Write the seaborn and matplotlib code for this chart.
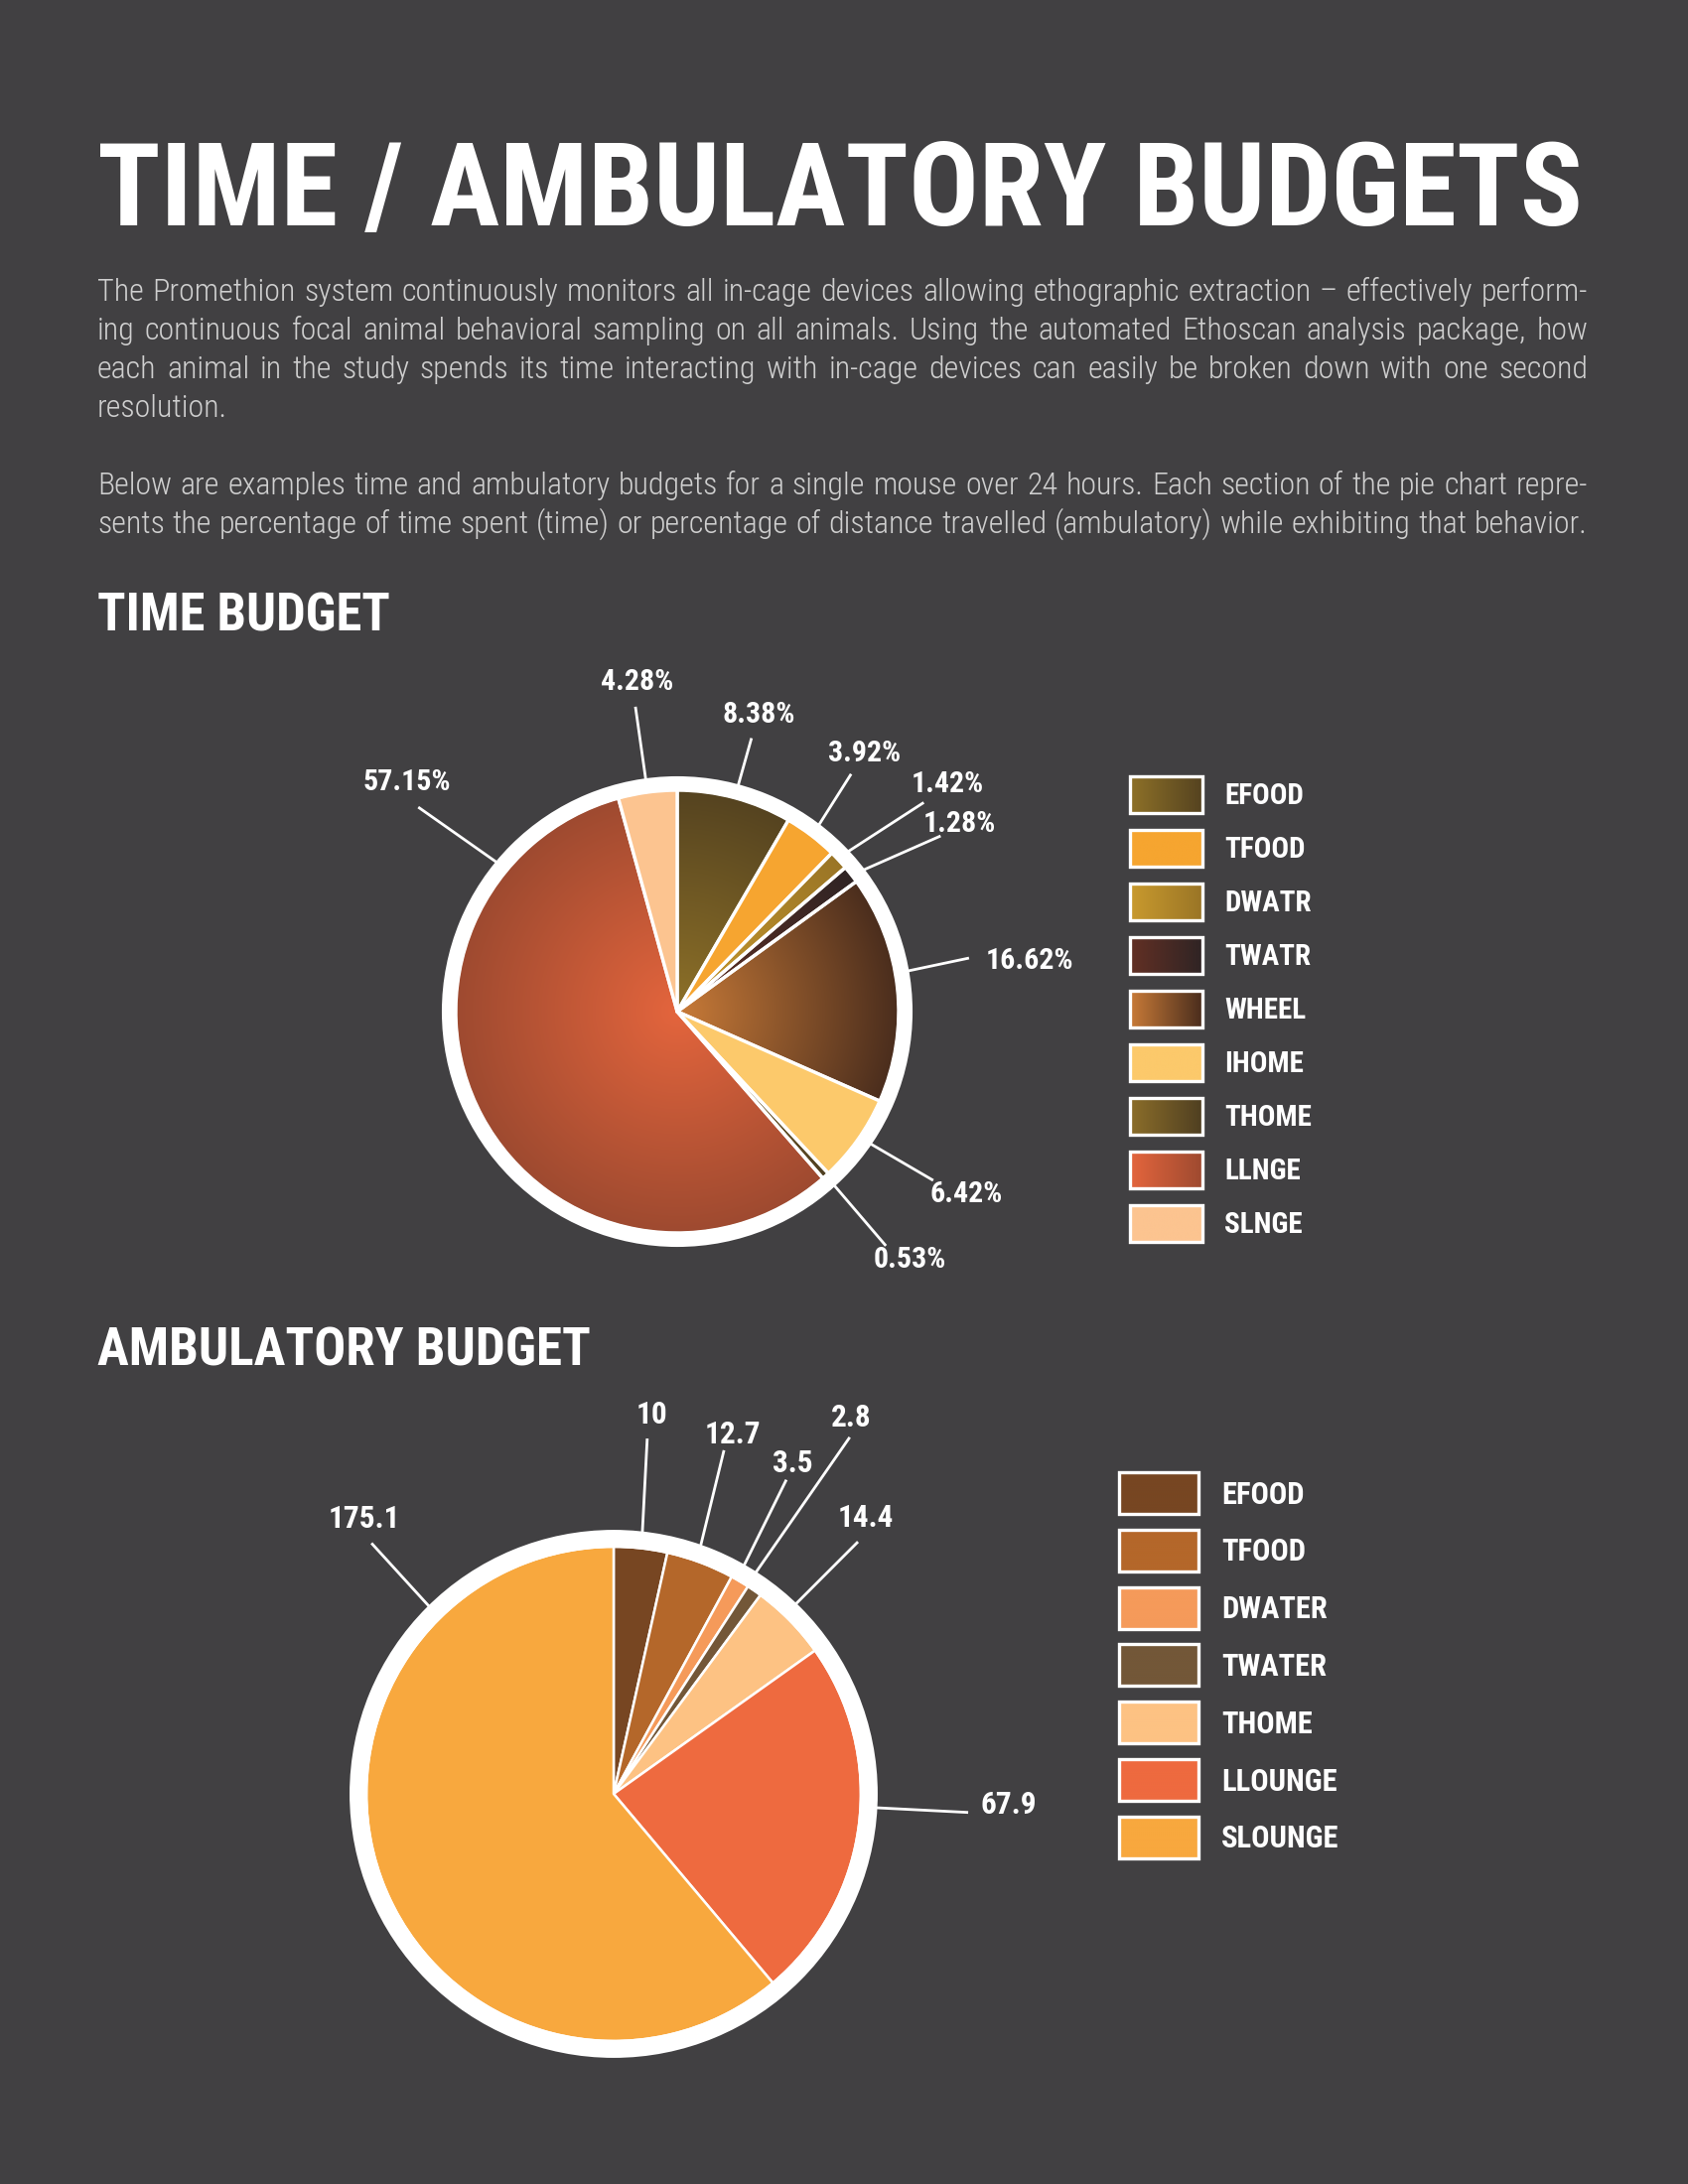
import numpy as np
import matplotlib
matplotlib.use("Agg")
import matplotlib.pyplot as plt
import seaborn as sns
from matplotlib import font_manager as fm
from matplotlib.font_manager import FontProperties
from matplotlib.patches import Wedge, Rectangle
from matplotlib.colors import to_rgb

# ---------------- data ----------------
title_text = "TIME / AMBULATORY BUDGETS"
para1_lines = [
    "The Promethion system continuously monitors all in-cage devices allowing ethographic extraction \u2013 effectively perform-",
    "ing continuous focal animal behavioral sampling on all animals. Using the automated Ethoscan analysis package, how",
    "each animal in the study spends its time interacting with in-cage devices can easily be broken down with one second",
    "resolution.",
]
para2_lines = [
    "Below are examples time and ambulatory budgets for a single mouse over 24 hours. Each section of the pie chart repre-",
    "sents the percentage of time spent (time) or percentage of distance travelled (ambulatory) while exhibiting that behavior.",
]
time_heading = "TIME BUDGET"
amb_heading = "AMBULATORY BUDGET"

time_labels = ["EFOOD", "TFOOD", "DWATR", "TWATR", "WHEEL", "IHOME", "THOME", "LLNGE", "SLNGE"]
time_values = [8.38, 3.92, 1.42, 1.28, 16.62, 6.42, 0.53, 57.15, 4.28]

amb_labels = ["EFOOD", "TFOOD", "DWATER", "TWATER", "THOME", "LLOUNGE", "SLOUNGE"]
amb_values = [10, 12.7, 3.5, 2.8, 14.4, 67.9, 175.1]

# ---------------- style ----------------
BG = "#414042"
time_col_in = ["#8e7128", "#f6a530", "#c99a2e", "#633024", "#c97b38", "#fcc96b", "#8c6e2a", "#e4653d", "#fcc490"]
time_col_out = ["#554320", "#f6a530", "#9a7526", "#2f2424", "#4a2d1d", "#fcc96b", "#4f3f21", "#9e4a30", "#fcc490"]
amb_colors = ["#774622", "#b4672a", "#f59a5a", "#735738", "#fdc283", "#ee6a3f", "#f8a83e"]

# leader/label layout: (inner angle offset, leader-end angle, leader-end r, text angle, text r)
time_lbl_layout = [
    (0, 15.2, 1.28, 15.4, 1.39),
    (0, 36.2, 1.33, 35.9, 1.44),
    (0, 49.7, 1.46, 49.9, 1.595),
    (1, 56.3, 1.43, 56.4, 1.53),
    (-3.9, 79.6, 1.34, 81.8, 1.61),
    (-1, 123.4, 1.385, 122.3, 1.545),
    (0, 138.3, 1.417, 136.9, 1.535),
    (67.9, -51.7, 1.49, -49.6, 1.60),
    (0, -7.8, 1.39, -6.9, 1.50),
]
amb_lbl_layout = [
    (0, 5.4, 1.444, 5.7, 1.54),
    (-1.2, 17.8, 1.46, 18.3, 1.53),
    (-1, 28.8, 1.45, 28.4, 1.52),
    (-2, 33.5, 1.73, 32.3, 1.80),
    (-1.7, 44.1, 1.42, 42.4, 1.51),
    (-4.2, 93, 1.436, 91.6, 1.60),
    (65.5, -44, 1.41, -42.2, 1.50),
]

W, H = 1700, 2200
sns.set_theme(style="dark", rc={"figure.facecolor": BG, "axes.facecolor": BG})
plt.rcParams["font.family"] = ["Roboto", "DejaVu Sans"]


# ---------------- font selection (exact files) ----------------
def _w(v):
    if isinstance(v, str):
        return fm.weight_dict.get(v, 400)
    return int(v)


def _s(v):
    if isinstance(v, str):
        return fm.stretch_dict.get(v, 500)
    return int(v)


def pick_font(prefs, fallback):
    for fam, wmin, wmax, smin, smax in prefs:
        cands = [f for f in fm.fontManager.ttflist
                 if f.name == fam and wmin <= _w(f.weight) <= wmax and smin <= _s(f.stretch) <= smax
                 and f.style == "normal"]
        if cands:
            cands.sort(key=lambda f: (_s(f.stretch), -_w(f.weight)))
            return cands[0].fname
    return fallback


BOLD_PATH = pick_font([
    ("Liberation Sans Narrow", 600, 800, 0, 600),
    ("Roboto Condensed", 600, 800, 0, 600),
    ("Noto Sans", 600, 800, 0, 400),
    ("Open Sans", 600, 800, 0, 400),
    ("DejaVu Sans", 600, 800, 0, 400),
    ("Roboto", 700, 700, 500, 500),
], None)


def FP(path, weight):
    if path:
        return FontProperties(fname=path)
    return FontProperties(family=["Roboto", "DejaVu Sans"], weight=weight)


CAP = 0.70  # cap-height / em

sns.set_palette(sns.color_palette(amb_colors))

fig = plt.figure(figsize=(W / 100, H / 100), dpi=100)
fig.patch.set_facecolor(BG)
renderer = fig.canvas.get_renderer()

# overlay axes in pixel coordinates (origin top-left)
ax_bg = fig.add_axes([0, 0, 1, 1])
ax_bg.axis("off")


def btext(ax, x, y, s, size, **kw):
    fp = FP(BOLD_PATH, "bold")
    fp.set_size(size)
    return ax.text(x, y, s, fontproperties=fp, color="white", **kw)


def fit_text(x, y, s, target_w, ref=50):
    t = btext(ax_bg, x, y, s, ref, ha="left", va="baseline")
    w = t.get_window_extent(renderer).width
    t.set_fontsize(ref * target_w / w)
    return t


# title
fit_text(98, 227, title_text, 1497)

# ---------------- body paragraphs (justified) ----------------
BODY_C = "#cfcfcf"
X0, X1 = 98, 1599
size_cap = 22.6 / CAP * 72 / 100
just_lines = para1_lines[:3] + para2_lines


def nat_width(fp_path, size):
    fp = FontProperties(fname=fp_path) if fp_path else FontProperties(family="Roboto", weight="light")
    fp.set_size(size)
    ws = []
    for ln in just_lines:
        t = ax_bg.text(0, 0, ln, fontproperties=fp)
        ws.append(t.get_window_extent(renderer).width)
        t.remove()
    return max(ws)


# choose the light font whose natural width at the reference cap height best fits the column
light_cands = []
for f in fm.fontManager.ttflist:
    if f.name in ("Roboto", "Noto Sans", "Open Sans", "Lato", "Roboto Condensed", "DejaVu Sans", "Inter") \
            and 200 <= _w(f.weight) <= 300 and f.style == "normal":
        light_cands.append(f.fname)
light_cands = sorted(set(light_cands))
best, best_score = None, 1e9
for p in light_cands:
    w = nat_width(p, size_cap)
    score = abs(np.log((X1 - X0) * 0.97 / w))
    if score < best_score:
        best, best_score = p, score
LIGHT_PATH = best


def ltext(x, y, s, size, **kw):
    fp = FP(LIGHT_PATH, "light")
    fp.set_size(size)
    return ax_bg.text(x, y, s, fontproperties=fp, color=BODY_C, **kw)


size_w = size_cap * (X1 - X0) / nat_width(LIGHT_PATH, size_cap) * 0.995
body_size = min(size_w, size_cap)


def draw_line(line, y, justify):
    words = line.split(" ")
    ts = [ltext(0, y, w, body_size, ha="left", va="baseline") for w in words]
    widths = [t.get_window_extent(renderer).width for t in ts]
    if justify and len(words) > 1:
        gap = (X1 - X0 - sum(widths)) / (len(words) - 1)
    else:
        a = ltext(0, 0, "x x", body_size)
        b = ltext(0, 0, "xx", body_size)
        gap = a.get_window_extent(renderer).width - b.get_window_extent(renderer).width
        a.remove(); b.remove()
    x = X0
    for t, w in zip(ts, widths):
        t.set_x(x)
        x += w + gap


base1 = [303, 342, 381, 420]
for i, ln in enumerate(para1_lines):
    draw_line(ln, base1[i], i < 3)
base2 = [498, 537]
for i, ln in enumerate(para2_lines):
    draw_line(ln, base2[i], True)

# section headings
fit_text(98, 635, time_heading, 295)
fit_text(98, 1375, amb_heading, 498)


# ---------------- pies ----------------
def pie_axes(cx, cy, R, xl, xr, yb, yt):
    left = (cx + xl * R) / W
    right = (cx + xr * R) / W
    top_px = cy - yt * R
    bot_px = cy - yb * R
    ax = fig.add_axes([left, 1 - bot_px / H, right - left, (bot_px - top_px) / H])
    ax.patch.set_visible(False)
    return ax


def radial_img(c_in, c_out, n=500, ext=1.1):
    xs = np.linspace(-ext, ext, n)
    X, Y = np.meshgrid(xs, xs)
    r = np.clip(np.hypot(X, Y), 0, 1)[..., None]
    a = np.array(to_rgb(c_in)); b = np.array(to_rgb(c_out))
    return a + (b - a) * r


def pol(a_deg, r):
    a = np.deg2rad(a_deg)
    return r * np.sin(a), r * np.cos(a)


def draw_pie(ax, values, c_in, c_out, ring_out, sep_lw, layout, texts, lbl_size, lims):
    wedges, _ = ax.pie(values, colors=c_in, startangle=90, counterclock=False, radius=1.0,
                       wedgeprops=dict(edgecolor="white", linewidth=sep_lw, joinstyle="round"))
    for w, ci, co in zip(wedges, c_in, c_out):
        w.set_zorder(2)
        if ci != co:
            w.set_facecolor("none")
            im = ax.imshow(radial_img(ci, co), extent=[-1.1, 1.1, -1.1, 1.1], origin="lower",
                           zorder=1, interpolation="bilinear", aspect="auto")
            im.set_clip_path(w)
    ax.add_patch(Wedge((0, 0), ring_out, 0, 360, width=ring_out - 0.995, facecolor="white",
                       edgecolor="none", zorder=5))
    total = float(sum(values))
    cum = np.cumsum([0] + list(values))
    for i, (off, a_out, r_out, a_t, r_t) in enumerate(layout):
        mid = (cum[i] + values[i] / 2) / total * 360
        x0, y0 = pol(mid + off, ring_out - 0.01)
        x1, y1 = pol(a_out, r_out)
        ax.plot([x0, x1], [y0, y1], color="white", lw=2.0, solid_capstyle="butt", zorder=6)
        xt, yt = pol(a_t, r_t)
        btext(ax, xt, yt, texts[i], lbl_size, ha="center", va="center", zorder=7)
    ax.set_xlim(lims[0], lims[1]); ax.set_ylim(lims[2], lims[3])
    ax.set_aspect("equal")
    ax.axis("off")


ax_t = pie_axes(682, 1019, 223, -1.9, 1.9, -1.6, 1.75)
draw_pie(ax_t, time_values, time_col_in, time_col_out, 1.063, 2.4, time_lbl_layout,
         [f"{v:.2f}%" for v in time_values], 21.5, (-1.9, 1.9, -1.6, 1.75))

ax_a = pie_axes(618, 1807, 249, -1.9, 1.9, -1.5, 1.9)
draw_pie(ax_a, amb_values, amb_colors, amb_colors, 1.068, 1.8, amb_lbl_layout,
         [f"{v:g}" for v in amb_values], 22.5, (-1.9, 1.9, -1.5, 1.9))


# ---------------- legends ----------------
def legend(labels, c_left, c_right, x0, x1, yc0, dy, bh, fsize, tx):
    cap_px = fsize * 100 / 72 * CAP
    for i, lab in enumerate(labels):
        yc = yc0 + i * dy
        a = np.array(to_rgb(c_left[i])); b = np.array(to_rgb(c_right[i]))
        g = np.linspace(0, 1, 200)[None, :, None]
        img = np.repeat(a + (b - a) * g, 2, axis=0)
        ax_bg.imshow(img, extent=[x0, x1, yc + bh / 2, yc - bh / 2], aspect="auto",
                     interpolation="bilinear", zorder=2)
        ax_bg.add_patch(Rectangle((x0, yc - bh / 2), x1 - x0, bh, facecolor="none",
                                  edgecolor="white", lw=2.4, zorder=3))
        btext(ax_bg, tx, yc + cap_px / 2, lab, fsize, ha="left", va="baseline", zorder=3)


legend(time_labels, time_col_in, time_col_out, 1138, 1211, 800, 54, 37, 21, 1233)
legend(amb_labels, amb_colors, amb_colors, 1127, 1207, 1504, 57.8, 42, 22, 1230)

ax_bg.set_xlim(0, W)
ax_bg.set_ylim(H, 0)

fig.savefig("out.png", dpi=100, facecolor=BG)
